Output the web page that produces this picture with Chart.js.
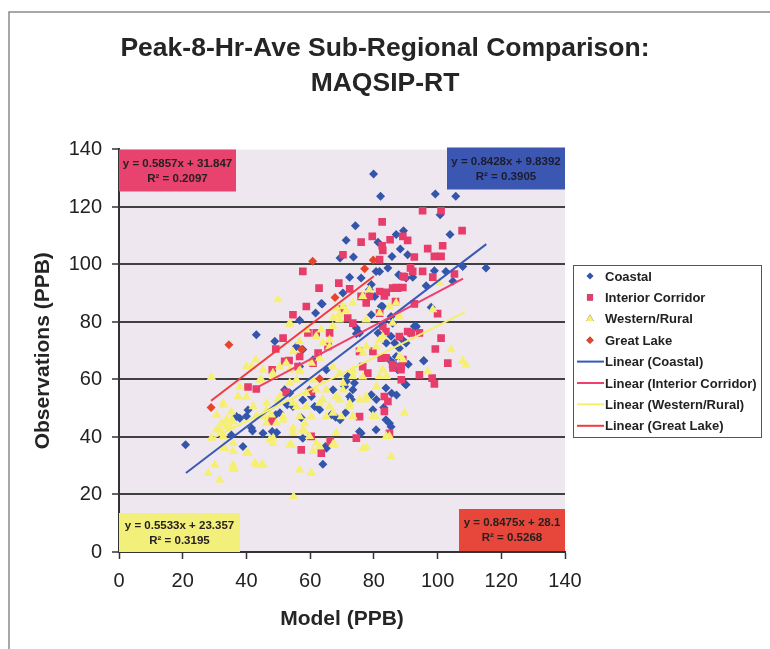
<!DOCTYPE html>
<html>
<head>
<meta charset="utf-8">
<script src="https://cdn.jsdelivr.net/npm/chart.js@4.4.0/dist/chart.umd.min.js"></script>
<style>
  html, body { margin: 0; padding: 0; background: #fff; }
  #wrap { width: 770px; height: 649px; }
</style>
</head>
<body>
<div id="wrap"><canvas id="sc" width="770" height="649"></canvas></div>
<script>
const coastal = [
  [79.9,131.5],[82.1,123.7],[99.3,124.5],[105.7,123.7],[100.8,117.3],[74.2,113.5],[71.3,108.4],[73.6,102.6],
  [89.3,111.7],[87,110.4],[81.3,107.7],[103.9,110.4],[88.3,105.4],[85.7,102.8],[90.6,103.4],[69.4,102.3],
  [107.9,99.3],[115.2,98.8],[99,97.8],[84.4,98.8],[80.7,97.6],[72.4,95.6],[76,95.3],[87.8,96.4],[90.1,95.3],
  [92.2,95.6],[79.2,93],[96.4,92.6],[70.3,90.1],[63.8,86.3],[98,85.1],[82.8,85.4],[80.3,88.9],
  [93.3,78.5],[95.6,66.5],[90.1,58.2],[85.6,55.2],[79.7,49.5],[84.9,44.8],[85.4,43.6],[80.7,42.5],[76,41.3],
  [73.4,56.4],[72.4,54.1],[71.3,59.3],[73.9,58.8],[84.9,66.9],[86,65.7],[87,68],[88,70.9],[86.5,72.7],
  [85.4,75],[81.3,76.2],[83.9,72.7],[75.5,76.2],[74.5,77.9],[72.9,53],[82.3,85.5],[79.2,82.5],[90.1,72.7],
  [91.2,76.2],[63.5,86.4],[61.7,83.1],[56.7,80.6],[43.1,75.6],[48.9,73.3],[55.7,71.5],[71.8,61.1],[52.8,51.2],
  [54.6,50.6],[57.7,52.9],[60.4,54.1],[40.5,49.4],[36.9,47.1],[37.9,46.5],[41.6,43.1],[41.9,42.1],[35.3,40.7],
  [45.2,41.3],[48.1,41.9],[38.9,36.7],[64,30.5],[64.8,36.7],[20.9,37.3],[66.6,47.7],[68,46.9],[61.4,50.6],
  [63,49.5],[52,56.4],[53.6,55.3],[59.8,56.4],[49.2,47.7],[69.4,46],[87.1,54.6],[89.8,58.4],[90.8,65.3],
  [95.7,66.5],[93.2,78.3],[83.1,50.3],[57.2,46.7],[71.1,48.4],[49.5,41.6],[57.7,70.4],[70.8,57.6],[74.5,75.9],
  [78.6,91.2],[85.9,79.6],[89,73.8],[92.7,78.5],[88.5,65.2],[87.5,63.4],[83.8,57],[65.1,63.4],[67.2,56.4],
  [60.9,66.9],[56.7,64.5],[79.2,54.7],[80.8,53],[81.8,97.6],[102.6,97.6],[104.8,94.2],[57.7,39.6],[65.1,36.1],
  [75.5,41.9],[83.8,46],[50.5,48.4],[40,47.2],[85.4,81.9]
];
const interior = [
  [95.3,118.7],[101.1,118.7],[82.6,114.8],[107.7,111.8],[79.5,109.8],[76,107.8],[85.1,108.6],[89.1,109.8],
  [90.6,108.4],[82.6,106.5],[82.8,104.9],[70.3,103.4],[96.9,105.5],[101.6,106.5],[99,102.8],[101.1,102.8],
  [92.7,102.6],[57.7,97.6],[81.8,101.7],[91.5,98.8],[89.1,95.9],[105.3,96.7],[62.8,91.8],[69,93.5],[72.4,91.5],
  [98.5,95.6],[87,92],[89.1,92],[81.8,90.6],[83.9,90.3],[58.8,85.4],[78.6,88.9],[92.7,86.3],
  [100,82.9],[101.1,74.4],[99.3,70.6],[103.2,65.7],[94.3,61.6],[98.3,60.5],[99,58.5],[88.6,64.5],[88.6,59.9],
  [86,64],[83.3,54.1],[84.4,52.4],[83.3,48.9],[75.5,47.1],[84.9,41.3],[74.5,39.6],[79.7,69.8],[82.3,67.4],
  [89.1,66.9],[90.6,76.7],[91.7,76.2],[94.3,76.2],[78.1,62.2],
  [54.6,82.5],[51.5,74.4],[49.2,70.6],[40.5,57.4],[43.1,56.7],[48.1,63.4],[59.3,76.2],[61.9,76.2],[53.4,66.6],
  [56.2,64.5],[65.6,71.5],[57.2,35.5],[63.5,34.4],[52.5,55.5],[60.4,55.8],[48.1,45.4],
  [70.1,84.5],[66.1,76.2],[71.8,81.4],[73.4,79.6],[76,88.9],[77.6,86.6],[83.3,89.1],[85.9,91.8],[87.5,91.8],
  [81.8,83.1],[86.8,87.1],[89.6,95.7],[92.2,97.6],[95.3,97.6],[82.8,78.5],[83.8,76.7],[62.5,69.2],[60.9,65.7],
  [75.5,69.8],[76.5,64.5],[88,74.9],[88.5,63.4],[85.9,65.2],[83.8,67.5],[52,66.3],[56.7,68],
  [60.3,40.2],[66.3,38.6],[48,46]
];
const western = [
  [29,60.8],[42.9,66.9],[53.6,79.1],[49.9,87.8],[37.4,54.1],[32.7,51.8],[32.2,44.8],[30.6,42.5],[34.8,43.6],
  [32.7,40.2],[35.8,37.8],[33.2,36.1],[28,27.4],[31.6,25.1],[35.8,29.1],[40.5,34.4],[43.1,30.3],[44.7,30.3],
  [47.3,39],[48.3,37.8],[53.6,37.3],[56.7,28.6],[60.4,27.4],[54.8,19.3],[60.9,35],[61.9,37.8],[67.7,37.3],
  [68.2,41.3],[51.5,46],[54.6,43.1],[58.3,41.9],[59.8,40.2],[45.7,47.1],[47.8,47.7],[46.3,51.8],[49.9,52.9],
  [44.7,59.9],[48.3,62.2],[50.4,64.5],[53.6,58.8],[55.7,59.9],[56.7,62.8],[60.4,65.7],[63,67.5],[64,72.7],
  [66.1,73.8],[63.5,77.3],[67.1,78.5],[69.2,80.8],[68.2,84.9],[70.3,85.4],[55.7,50.6],[58.8,50.6],[56.7,47.1],
  [60.4,47.1],[65.1,47.1],[66.1,50.6],[69.2,52.9],[70.3,56.4],[64,52.9],[61.9,56.4],[53.6,63.4],[40,64.5],
  [35.8,45.4],[42.1,50.6],
  [104.2,70.4],[107.9,66.5],[108.9,65.1],[96.9,62.8],[89.6,48.3],[85.4,33.2],[83.9,40.2],[76.6,36.1],[80.5,47.1],
  [73.4,47.1],[77.6,52.9],[81.8,61.1],[82.8,63.4],[88,68],[89.1,66.9],[81.8,73.8],[77.6,71.5],[75.5,70.4],
  [76.6,69.2],[70.3,58.8],[73.4,61.1],[75.5,52.9],[72.4,50.6],[77.6,80.8],[81.8,83.1],[84.9,85.4],[87,86.6],
  [69.8,47.1],
  [53.6,79.6],[67.2,81.5],[69.2,82.7],[71.3,84],[73.4,86.6],[76.5,88.9],[78.6,91.2],[98.5,84.3],[100.6,93.6],
  [88,81.9],[85.9,79.6],[82.8,74.9],[80.8,71.4],[58.8,77.3],[61.9,75],[66.1,71.4],[56.7,73.2],[54.6,69.7],
  [52.5,65.7],[56.7,63.4],[60.9,59.9],[48.4,61.1],[45.2,63.4],[41.6,64.5],[44.2,59.9],[37.9,57.4],[40,53.9],
  [32.7,51.1],[35.3,48.8],[30.6,47.7],[33.7,46],[67.2,64.4],[69.2,62.1],[73.4,63.2],[76.5,60.9],[65.1,56.4],
  [68.2,54.1],[72.4,51.8],[77.6,54.1],[80.8,57.5],[83.9,61.1],[50.5,54.1],[54.6,51.8],[58.8,55.2],[63,51.8],
  [67.2,48.3],[46.3,49.4],[51.5,47.1],
  [29,39.6],[31.6,42.5],[33.7,43.6],[35.3,46],[32.7,36.7],[35.8,35],[30.1,30.3],[35.8,30.3],[36.3,28.8],
  [40,34.4],[42.6,30.9],[45.2,30.3],[43.1,47.2],[46.3,44.8],[48.4,39.6],[54.1,37.3],[60.4,27.6],[63,36.7],
  [67.2,37.5],[54.6,41.3],[57.7,42.4],[77.6,36.4],[84.9,40.2],[49.4,44.8],[58.3,44.8],[73.4,47.1],[79.7,47.3]
];
const greatLake = [
  [28.9,50.3],[34.5,72.1],[60.8,101.1],[67.8,88.5],[77.1,98.5],[79.8,101.6],[63,60.3],[57.3,70.4]
];

// trendline end points as drawn in the picture
const coastalFit = [[21,27.5],[115.3,107.1]];
const interiorFit = [[42.8,56.9],[108,95.1]];
const westernFit = [[28.5,39.1],[108.6,83.4]];
const greatLakeFit = [[28.9,52.6],[80,95.9]];

const xTicks = [0, 20, 40, 60, 80, 100, 120, 140];
const yTicks = [0, 20, 40, 60, 80, 100, 120, 140];

const fitLabels = [
  ['y = 0.5857x + 31.847', 'R² = 0.2097'],
  ['y = 0.8428x + 9.8392', 'R² = 0.3905'],
  ['y = 0.5533x + 23.357', 'R² = 0.3195'],
  ['y = 0.8475x + 28.1', 'R² = 0.5268']
];

const FONT = '"Liberation Sans", Arial, sans-serif';
const toPts = arr => arr.map(p => ({x: p[0], y: p[1]}));

// page frame, plot background
const backdrop = {
  id: 'backdrop',
  beforeDraw(chart) {
    const c = chart.ctx, a = chart.chartArea;
    c.save();
    c.fillStyle = '#fff';
    c.fillRect(0, 0, chart.width, chart.height);
    c.strokeStyle = '#8a8a8a';
    c.lineWidth = 1.5;
    c.beginPath();
    c.moveTo(9, chart.height);
    c.lineTo(9, 12);
    c.lineTo(chart.width, 12);
    c.stroke();
    c.fillStyle = '#efe7ef';
    c.fillRect(a.left, a.top, a.right - a.left, a.bottom - a.top);
    c.restore();
  }
};

// the four equation boxes
const fitBoxes = {
  id: 'fitBoxes',
  afterDraw(chart) {
    const c = chart.ctx, a = chart.chartArea;
    const boxes = [
      {x: a.left, y: a.top, w: 117, h: 42, bg: '#e8426f'},
      {x: a.right - 118, y: a.top - 2, w: 118, h: 42, bg: '#3b57b2'},
      {x: a.left, y: a.bottom - 39, w: 121, h: 39, bg: '#f2ef7a'},
      {x: a.right - 106, y: a.bottom - 43, w: 106, h: 42, bg: '#e6473a'}
    ];
    c.save();
    c.font = 'bold 11.5px ' + FONT;
    c.textAlign = 'center';
    c.textBaseline = 'middle';
    boxes.forEach((b, i) => {
      c.fillStyle = b.bg;
      c.fillRect(b.x, b.y, b.w, b.h);
      c.fillStyle = i === 1 ? '#1c1c30' : '#262020';
      c.fillText(fitLabels[i][0], b.x + b.w / 2, b.y + b.h / 2 - 7);
      c.fillText(fitLabels[i][1], b.x + b.w / 2, b.y + b.h / 2 + 8);
    });
    c.restore();
  }
};

// legend box on the right
const sideLegend = {
  id: 'sideLegend',
  afterDraw(chart) {
    const c = chart.ctx, a = chart.chartArea;
    const x0 = a.right + 8, y0 = 265, w = 188, h = 172;
    c.save();
    c.fillStyle = '#fff';
    c.fillRect(x0, y0, w, h);
    c.strokeStyle = '#555';
    c.lineWidth = 1;
    c.strokeRect(x0 + 0.5, y0 + 0.5, w, h);
    c.font = 'bold 13px ' + FONT;
    c.textBaseline = 'middle';
    chart.data.datasets.forEach((ds, i) => {
      const y = y0 + 11 + i * 21.4;
      if (ds.showLine) {
        c.strokeStyle = ds.borderColor;
        c.lineWidth = 2;
        c.beginPath();
        c.moveTo(x0 + 4, y);
        c.lineTo(x0 + 31, y);
        c.stroke();
      } else {
        Chart.helpers.drawPoint(c, {pointStyle: ds.pointStyle, radius: ds.pointRadius * 0.8, borderWidth: 0},
          x0 + 17, y);
        c.fillStyle = ds.backgroundColor;
        c.fill();
      }
      c.fillStyle = '#222';
      c.fillText(ds.label, x0 + 32, y + 1);
    });
    c.restore();
  }
};

const scatterSet = (label, data, style, radius, color, order) => ({
  label: label, data: toPts(data), pointStyle: style, pointRadius: radius,
  backgroundColor: color, borderColor: color, borderWidth: 0, pointHoverRadius: radius, order: order
});
const fitSet = (label, data, color, order) => ({
  label: label, data: toPts(data), showLine: true, borderColor: color, backgroundColor: color,
  borderWidth: 2, pointRadius: 0, pointHoverRadius: 0, fill: false, order: order
});

new Chart(document.getElementById('sc'), {
  type: 'scatter',
  data: {
    datasets: [
      scatterSet('Coastal', coastal, 'rectRot', 4.5, '#3355aa', 8),
      scatterSet('Interior Corridor', interior, 'rect', 5.4, '#e83c6b', 7),
      scatterSet('Western/Rural', western, 'triangle', 5.4, '#f5f073', 6),
      scatterSet('Great Lake', greatLake, 'rectRot', 4.5, '#e6452c', 5),
      fitSet('Linear (Coastal)', coastalFit, '#3859b6', 4),
      fitSet('Linear (Interior Corridor)', interiorFit, '#ef3f6c', 3),
      fitSet('Linear (Western/Rural)', westernFit, '#f4f06a', 2),
      fitSet('Linear (Great Lake)', greatLakeFit, '#f03b3b', 1)
    ]
  },
  options: {
    responsive: false,
    animation: false,
    events: [],
    plugins: {
      legend: { display: false },
      tooltip: { enabled: false },
      title: {
        display: true,
        text: ['Peak-8-Hr-Ave Sub-Regional Comparison:', 'MAQSIP-RT'],
        color: '#252525',
        font: { family: FONT, size: 26.5, weight: 'bold', lineHeight: 1.33 },
        padding: { top: 31, bottom: 48 }
      }
    },
    scales: {
      x: {
        type: 'linear', min: 0, max: 140,
        afterBuildTicks: s => { s.ticks = xTicks.map(v => ({value: v})); },
        afterFit: s => { s.height = 97; },
        ticks: { color: '#222', padding: 10, font: { family: FONT, size: 20 } },
        grid: { drawOnChartArea: false, drawTicks: true, tickLength: 7, tickColor: '#333', tickWidth: 1.5 },
        border: { color: '#333', width: 2 },
        title: { display: true, text: 'Model (PPB)', color: '#252525', padding: 17,
          font: { family: FONT, size: 21, weight: 'bold' } }
      },
      y: {
        type: 'linear', min: 0, max: 140,
        afterBuildTicks: s => { s.ticks = yTicks.map(v => ({value: v})); },
        afterFit: s => { s.width = 119; },
        ticks: { color: '#222', padding: 10, font: { family: FONT, size: 20 } },
        grid: {
          color: ctx => (ctx.tick && ctx.tick.value === 140) ? 'rgba(0,0,0,0)' : '#404040',
          lineWidth: 2, drawTicks: true, tickLength: 7, tickColor: '#333', tickWidth: 1.5
        },
        border: { color: '#333', width: 2 },
        title: { display: true, text: 'Observations (PPB)', color: '#252525', padding: 31,
          font: { family: FONT, size: 21, weight: 'bold' } }
      },
      // empty right-hand axis, only reserves the room the legend box sits in
      side: {
        type: 'linear', position: 'right', min: 0, max: 1,
        afterFit: s => { s.width = 205; },
        ticks: { display: false },
        grid: { display: false },
        border: { display: false }
      }
    }
  },
  plugins: [backdrop, fitBoxes, sideLegend]
});
</script>
</body>
</html>
